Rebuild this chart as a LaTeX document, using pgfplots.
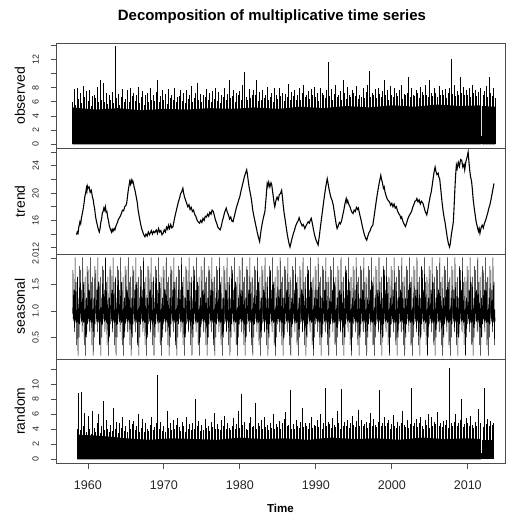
\documentclass[border=0pt]{standalone}
\usepackage{fontspec}
\setmainfont{Liberation Sans}
\usepackage{pgfplots}
\usepackage{pgfplotstable}
\pgfplotsset{compat=1.18}

% observed: five values per year at yr+0.0, +0.2, +0.4, +0.6, +0.8
\pgfplotstableread{
yr a b c d e
1958 6.0 7.8 5.6 7.9 6.4
1959 7.2 5.8 8.2 6.6 7.5
1960 6.1 7.7 5.4 6.8 7.0
1961 6.5 8.1 5.9 9.0 6.3
1962 8.6 6.0 7.3 5.7 6.9
1963 6.2 7.4 5.8 13.8 6.5
1964 7.1 5.5 6.7 7.8 6.0
1965 6.4 7.6 5.9 8.0 6.8
1966 7.3 6.1 7.0 8.1 5.8
1967 6.6 7.5 5.6 6.9 7.2
1968 5.9 7.9 6.3 7.0 6.1
1969 7.4 9.1 6.0 6.8 7.6
1970 6.2 7.1 5.7 7.8 6.5
1971 7.0 6.3 8.0 5.9 6.7
1972 6.8 7.6 6.1 7.2 5.8
1973 7.7 6.4 6.9 8.2 6.0
1974 6.5 7.3 8.6 6.2 7.1
1975 5.9 7.0 6.6 7.8 6.3
1976 7.2 6.0 7.5 6.4 8.0
1977 6.1 7.4 5.8 7.0 6.7
1978 7.9 6.2 7.1 9.0 6.5
1979 6.8 7.6 6.0 7.3 6.9
1980 7.5 6.3 8.4 10.2 6.6
1981 6.2 7.8 6.5 7.0 7.7
1982 6.9 9.0 6.1 7.4 6.3
1983 7.6 6.5 7.0 8.1 6.2
1984 6.7 7.3 6.0 7.9 7.0
1985 6.4 8.0 6.8 7.2 6.1
1986 7.1 6.6 8.5 6.3 7.4
1987 6.8 7.7 6.2 7.0 7.9
1988 6.3 7.2 8.3 6.6 7.0
1989 7.5 6.4 7.8 6.9 8.1
1990 6.6 7.3 6.1 8.0 7.2
1991 7.0 6.5 7.6 11.6 6.8
1992 7.8 6.2 7.1 8.4 6.7
1993 6.9 7.5 6.3 9.0 7.2
1994 6.4 8.1 7.0 6.6 7.7
1995 7.3 6.8 8.2 6.4 7.0
1996 6.7 7.9 6.5 7.4 8.3
1997 10.4 6.6 7.2 6.9 7.8
1998 6.5 8.0 7.1 6.7 7.5
1999 9.0 6.9 7.6 6.3 8.2
2000 7.0 6.6 7.9 7.2 6.8
2001 7.7 8.4 6.4 7.1 6.9
2002 7.3 9.5 6.7 8.0 7.0
2003 6.8 7.6 7.2 6.5 8.1
2004 7.4 6.9 8.3 7.0 6.6
2005 9.0 7.2 6.8 7.9 7.3
2006 6.7 8.2 7.0 7.6 6.9
2007 7.8 6.5 7.3 8.0 12.0
2008 7.1 8.4 6.8 7.5 7.0
2009 9.5 7.3 8.1 6.9 7.7
2010 7.0 7.9 6.6 8.3 7.2
2011 7.6 6.8 7.4 8.0 1.2
2012 6.9 7.5 8.2 6.7 9.5
2013 7.3 6.8 7.9 6.5 nan
}\obs

% random: same layout
\pgfplotstableread{
yr a b c d e
1958 nan nan nan 4.1 8.8
1959 3.9 9.0 4.4 6.2 3.6
1960 5.8 4.0 3.4 6.5 4.2
1961 3.7 4.8 6.0 3.5 4.5
1962 7.8 3.9 5.2 4.1 3.6
1963 4.6 3.8 6.8 4.0 5.0
1964 3.5 4.9 4.2 5.6 3.8
1965 4.4 3.6 5.3 4.0 4.7
1966 5.1 3.9 4.5 6.0 3.7
1967 4.2 5.4 3.6 4.8 4.0
1968 3.8 4.6 5.7 3.9 4.3
1969 4.9 11.3 4.1 5.0 3.8
1970 4.5 3.7 6.5 4.2 4.8
1971 3.9 5.2 4.0 4.6 5.5
1972 4.3 3.8 5.0 4.4 3.7
1973 5.6 4.1 4.7 3.9 4.9
1974 4.0 8.0 4.4 5.1 3.8
1975 4.6 3.9 5.4 4.2 4.5
1976 3.8 5.0 4.3 6.2 4.0
1977 4.7 4.1 3.9 5.3 4.4
1978 5.8 4.0 4.8 4.2 3.9
1979 4.5 5.5 4.1 4.7 6.4
1980 4.2 8.7 4.6 5.0 4.0
1981 3.9 4.8 5.6 4.3 4.5
1982 7.5 4.1 4.9 4.4 5.2
1983 4.0 5.7 4.3 4.6 3.9
1984 4.8 4.2 6.0 4.1 4.7
1985 4.3 5.1 4.0 4.9 5.4
1986 6.3 4.4 4.6 9.3 4.1
1987 4.7 4.0 5.3 4.5 4.2
1988 5.0 6.9 4.3 4.8 4.4
1989 4.1 4.9 5.6 4.2 4.6
1990 4.5 5.2 4.3 6.1 4.0
1991 4.8 9.5 4.4 5.0 4.7
1992 4.2 5.5 4.6 4.3 6.5
1993 4.9 4.1 9.4 4.5 5.0
1994 4.4 5.3 4.2 4.8 5.8
1995 4.6 4.3 5.1 6.6 4.4
1996 5.2 4.5 4.7 5.0 4.2
1997 4.8 6.2 4.4 5.4 4.6
1998 4.3 5.0 9.3 4.5 4.9
1999 5.6 4.4 4.8 5.2 4.1
2000 4.7 5.9 4.5 4.2 5.0
2001 4.4 4.9 6.4 4.6 4.3
2002 5.3 4.2 4.7 9.5 4.5
2003 4.9 5.4 4.3 4.8 5.7
2004 4.5 4.1 5.2 4.6 6.0
2005 4.2 5.6 4.4 5.0 4.7
2006 6.3 4.5 4.9 4.3 5.1
2007 4.6 5.3 4.2 12.2 4.8
2008 4.4 5.0 6.1 4.5 4.9
2009 5.2 8.0 4.3 4.7 5.5
2010 4.8 4.4 5.8 4.6 4.2
2011 5.0 4.5 6.7 4.9 0.8
2012 4.3 9.5 4.7 5.4 4.5
2013 5.1 4.6 4.9 nan nan
}\rnd

% one cycle of the seasonal factor (fraction of year, value)
\pgfplotstableread{
t s
0.000 0.95
0.035 1.78
0.070 0.85
0.105 1.05
0.140 0.80
0.175 1.40
0.210 0.90
0.245 0.60
0.280 1.00
0.315 2.02
0.350 0.82
0.385 1.08
0.420 0.78
0.455 1.55
0.490 0.95
0.525 0.35
0.560 1.02
0.595 0.80
0.630 1.65
0.665 0.90
0.700 0.15
0.735 1.05
0.770 0.85
0.805 1.25
0.840 0.50
0.875 1.00
0.910 1.85
0.945 0.75
0.980 1.10
}\seas

\pgfplotsset{
  rpanel/.style={
    scale only axis, width=449bp, anchor=north west,
    xmin=1955.8, xmax=2014.9,
    axis line style={black!70, line width=0.8bp},
    every tick/.style={black!70, line width=0.8bp},
    tick align=outside, major tick length=5bp,
    ytick pos=left, xtick pos=bottom, xtick=\empty,
    yticklabel style={rotate=90, anchor=south, inner sep=0pt,
      font=\fontsize{9}{10}\selectfont, text=black!85},
    yticklabel shift=12bp,
    ylabel style={at={(axis description cs:-0.0802,0.5)}, anchor=center,
      inner sep=0pt, font=\fontsize{14}{16}\selectfont},
    /pgf/number format/assume math mode=true,
  },
  comb/.style={ycomb, black, line width=0.8bp, mark=none},
}

\begin{document}
\begin{tikzpicture}
\path[use as bounding box] (0,0) rectangle (507bp,-517bp);

% observed
\begin{axis}[rpanel, at={(56bp,-43.3bp)}, height=105.2bp,
  ymin=-0.59, ymax=14.24,
  ytick={0,2,...,14}, yticklabels={0,2,4,6,8,,12,},
  ylabel={observed},
  title={Decomposition of multiplicative time series},
  title style={at={(axis description cs:0.481,1.193)}, anchor=center,
    yshift=0pt, inner sep=0pt, font=\bfseries\fontsize{15}{18}\selectfont}]
\addplot[fill=black, draw=none] coordinates {(1958,0)(1958,5.2)(1961,4.9)(1964,5.1)(1967,4.8)(1970,5.0)(1973,4.9)(1976,5.1)(1979,5.0)(1982,5.2)(1985,5.0)(1988,5.3)(1991,5.1)(1994,5.4)(1997,5.2)(2000,5.5)(2003,5.3)(2006,5.6)(2009,5.4)(2011.74,5.5)(2011.74,0)};
\addplot[fill=black, draw=none] coordinates {(2011.86,0)(2011.86,5.4)(2013.6,5.3)(2013.6,0)};
\addplot[comb] table[x expr=\thisrow{yr}+0.0, y=a] {\obs};
\addplot[comb] table[x expr=\thisrow{yr}+0.2, y=b] {\obs};
\addplot[comb] table[x expr=\thisrow{yr}+0.4, y=c] {\obs};
\addplot[comb] table[x expr=\thisrow{yr}+0.6, y=d] {\obs};
\addplot[comb] table[x expr=\thisrow{yr}+0.8, y=e] {\obs};
\end{axis}

% trend
\begin{axis}[rpanel, at={(56bp,-148.5bp)}, height=105.5bp,
  ymin=11.08, ymax=26.52,
  ytick={12,14,...,26}, yticklabels={12,,16,,20,,24,},
  ylabel={trend}]
\addplot[black, line width=1.1bp, mark=none] coordinates {
(1958.50,13.9)(1958.60,14.3)(1958.70,14.1)(1958.80,15.0)(1958.95,15.8)(1959.05,15.5)(1959.15,16.4)(1959.25,16.9)(1959.40,17.8)(1959.50,18.6)(1959.60,19.5)(1959.70,20.0)(1959.80,20.7)(1959.87,20.3)(1959.93,21.0)(1960.00,20.7)(1960.15,20.9)(1960.30,20.1)(1960.45,20.4)(1960.60,19.4)(1960.70,19.0)(1960.80,18.2)(1960.90,17.6)(1961.00,16.6)(1961.10,16.0)(1961.20,15.5)(1961.30,15.0)(1961.40,14.6)(1961.50,14.3)(1961.60,14.8)(1961.70,15.7)(1961.80,16.2)(1961.90,17.1)(1962.00,17.3)(1962.10,17.8)(1962.20,17.5)(1962.30,18.0)(1962.40,17.2)(1962.50,17.3)(1962.60,16.5)(1962.70,16.0)(1962.80,15.3)(1962.90,14.9)(1963.00,14.6)(1963.10,14.3)(1963.20,14.7)(1963.30,14.4)(1963.45,14.8)(1963.55,14.6)(1963.70,15.2)(1963.85,15.6)(1964.00,16.1)(1964.15,16.4)(1964.30,16.7)(1964.40,17.0)(1964.55,17.5)(1964.70,17.4)(1964.85,18.0)(1965.00,18.2)(1965.10,18.5)(1965.20,19.4)(1965.30,20.3)(1965.40,21.0)(1965.50,21.7)(1965.60,21.3)(1965.70,21.9)(1965.80,21.5)(1965.90,21.8)(1966.00,21.4)(1966.10,20.8)(1966.20,20.4)(1966.30,19.8)(1966.40,19.2)(1966.50,18.6)(1966.60,17.6)(1966.70,16.9)(1966.80,16.3)(1966.95,15.4)(1967.10,14.7)(1967.25,14.2)(1967.40,13.8)(1967.50,13.6)(1967.65,14.0)(1967.80,13.7)(1967.95,14.3)(1968.10,13.9)(1968.20,14.1)(1968.35,14.5)(1968.50,14.0)(1968.65,14.4)(1968.80,14.2)(1969.00,14.6)(1969.15,14.1)(1969.30,14.8)(1969.45,14.3)(1969.60,14.5)(1969.75,13.9)(1969.90,14.1)(1970.05,14.6)(1970.20,14.3)(1970.35,15.0)(1970.50,14.7)(1970.60,15.3)(1970.75,14.8)(1970.90,15.4)(1971.05,14.9)(1971.20,15.1)(1971.35,16.0)(1971.50,16.8)(1971.65,17.5)(1971.80,18.2)(1971.90,18.7)(1972.05,19.2)(1972.20,19.9)(1972.35,20.2)(1972.50,20.7)(1972.60,20.0)(1972.70,19.5)(1972.85,19.0)(1973.00,18.5)(1973.15,18.0)(1973.30,18.3)(1973.45,17.6)(1973.60,17.9)(1973.75,17.3)(1973.90,17.5)(1974.05,16.9)(1974.20,16.6)(1974.35,16.1)(1974.50,15.8)(1974.70,15.6)(1974.85,16.0)(1975.00,15.7)(1975.15,16.3)(1975.30,16.0)(1975.45,16.6)(1975.60,16.5)(1975.75,16.9)(1975.90,16.6)(1976.05,17.2)(1976.20,16.9)(1976.35,17.5)(1976.50,17.3)(1976.65,16.7)(1976.80,16.0)(1976.95,15.6)(1977.10,15.0)(1977.25,14.8)(1977.40,14.6)(1977.55,15.1)(1977.70,15.9)(1977.85,16.5)(1978.00,17.2)(1978.20,17.8)(1978.35,17.2)(1978.50,16.8)(1978.65,16.2)(1978.80,16.5)(1978.95,15.9)(1979.10,15.8)(1979.25,16.5)(1979.40,17.2)(1979.55,17.9)(1979.70,18.4)(1979.85,19.0)(1980.00,19.5)(1980.15,20.3)(1980.30,21.0)(1980.45,21.7)(1980.60,22.4)(1980.75,22.9)(1980.90,23.4)(1981.00,22.7)(1981.10,21.8)(1981.20,21.0)(1981.35,20.1)(1981.50,19.2)(1981.60,18.4)(1981.70,17.5)(1981.85,16.6)(1982.00,15.8)(1982.15,15.0)(1982.30,14.2)(1982.45,13.5)(1982.60,12.9)(1982.70,13.8)(1982.80,14.6)(1982.95,15.6)(1983.10,16.4)(1983.30,17.3)(1983.40,18.6)(1983.50,20.0)(1983.60,21.4)(1983.70,21.0)(1983.80,21.6)(1983.95,20.9)(1984.10,21.5)(1984.20,21.2)(1984.30,20.3)(1984.40,19.5)(1984.50,18.6)(1984.60,18.0)(1984.75,18.9)(1984.90,19.4)(1985.05,19.0)(1985.20,19.8)(1985.35,19.9)(1985.50,20.4)(1985.60,19.5)(1985.70,18.3)(1985.80,17.3)(1985.95,16.2)(1986.10,15.0)(1986.25,13.9)(1986.40,13.0)(1986.50,12.5)(1986.60,12.1)(1986.75,12.8)(1986.90,13.5)(1987.05,14.1)(1987.20,14.6)(1987.35,15.2)(1987.50,15.6)(1987.65,15.9)(1987.80,16.4)(1987.90,16.0)(1988.05,15.6)(1988.20,15.2)(1988.35,15.4)(1988.55,14.8)(1988.70,15.2)(1988.85,15.5)(1989.00,15.8)(1989.15,15.6)(1989.30,16.1)(1989.40,16.3)(1989.55,15.5)(1989.70,14.6)(1989.85,13.8)(1990.00,13.2)(1990.15,12.8)(1990.30,12.4)(1990.45,13.6)(1990.60,15.0)(1990.75,16.3)(1990.90,17.6)(1991.05,18.9)(1991.20,20.1)(1991.35,21.2)(1991.50,22.1)(1991.60,21.5)(1991.70,20.8)(1991.85,20.0)(1992.00,19.3)(1992.15,18.9)(1992.30,18.2)(1992.45,17.1)(1992.60,16.0)(1992.70,15.3)(1992.80,14.8)(1992.95,15.2)(1993.10,15.7)(1993.25,15.5)(1993.40,16.0)(1993.55,16.8)(1993.70,17.6)(1993.85,18.5)(1994.00,19.2)(1994.10,18.6)(1994.20,18.9)(1994.35,18.3)(1994.50,18.0)(1994.60,17.6)(1994.75,17.2)(1994.90,17.0)(1995.05,17.5)(1995.20,17.3)(1995.35,17.9)(1995.50,17.6)(1995.60,17.8)(1995.75,17.0)(1995.90,16.3)(1996.00,15.8)(1996.15,15.0)(1996.30,14.3)(1996.45,13.7)(1996.60,13.3)(1996.70,13.1)(1996.85,13.7)(1997.00,14.2)(1997.15,14.5)(1997.30,15.0)(1997.50,15.3)(1997.65,16.4)(1997.80,17.6)(1997.95,18.8)(1998.10,19.9)(1998.25,20.9)(1998.40,21.8)(1998.55,22.6)(1998.65,22.0)(1998.75,21.6)(1998.90,20.7)(1999.00,20.9)(1999.10,20.2)(1999.25,19.6)(1999.40,19.1)(1999.55,18.9)(1999.70,18.7)(1999.85,18.2)(2000.00,18.5)(2000.15,18.0)(2000.30,18.4)(2000.45,17.8)(2000.60,18.0)(2000.75,17.4)(2000.90,17.0)(2001.05,16.8)(2001.20,16.3)(2001.30,16.5)(2001.45,15.9)(2001.60,15.5)(2001.80,15.1)(2001.95,15.6)(2002.10,16.2)(2002.25,16.6)(2002.40,16.9)(2002.60,17.3)(2002.75,17.9)(2002.90,18.3)(2003.05,18.8)(2003.20,18.9)(2003.30,19.2)(2003.45,18.7)(2003.60,19.0)(2003.75,18.4)(2003.90,18.8)(2004.10,18.5)(2004.25,17.9)(2004.40,17.3)(2004.60,16.8)(2004.75,17.6)(2004.90,18.6)(2005.05,19.5)(2005.20,20.2)(2005.35,21.4)(2005.50,22.6)(2005.60,23.3)(2005.70,23.8)(2005.80,23.2)(2005.95,22.7)(2006.10,22.9)(2006.20,22.3)(2006.30,22.1)(2006.45,20.5)(2006.60,18.8)(2006.75,17.4)(2006.90,16.3)(2007.00,15.8)(2007.15,14.6)(2007.30,13.5)(2007.45,12.6)(2007.60,12.1)(2007.70,12.6)(2007.85,14.0)(2008.00,15.0)(2008.10,15.8)(2008.20,18.0)(2008.30,20.5)(2008.40,22.6)(2008.50,24.1)(2008.60,23.6)(2008.75,24.5)(2008.90,23.9)(2009.05,24.9)(2009.20,24.8)(2009.35,23.8)(2009.50,24.2)(2009.60,23.4)(2009.75,24.6)(2009.90,25.2)(2010.05,26.0)(2010.15,24.6)(2010.25,23.4)(2010.35,22.5)(2010.50,21.7)(2010.60,20.6)(2010.70,19.2)(2010.85,17.8)(2011.00,16.6)(2011.10,15.8)(2011.25,15.1)(2011.40,14.4)(2011.50,14.8)(2011.60,14.1)(2011.75,14.9)(2011.90,15.3)(2012.05,14.9)(2012.20,15.6)(2012.35,16.0)(2012.50,16.6)(2012.65,17.2)(2012.80,17.9)(2012.90,18.2)(2013.05,19.0)(2013.20,19.9)(2013.35,20.8)(2013.45,21.4)
};
\end{axis}

% seasonal
\begin{axis}[rpanel, at={(56bp,-254bp)}, height=105bp,
  ymin=0.088, ymax=2.082,
  ytick={0.5,1.0,1.5,2.0}, yticklabels={0.5,1.0,1.5,2.0},
  ylabel={seasonal},
  restrict x to domain=1958:2013.6]
\pgfplotsinvokeforeach{1958,...,2013}{
  \addplot[black, line width=0.5bp, mark=none] table[x expr=\thisrow{t}+#1, y=s] {\seas};
}
\end{axis}

% random
\begin{axis}[rpanel, at={(56bp,-359bp)}, height=104.5bp,
  ymin=-0.56, ymax=13.37,
  ytick={0,2,...,12}, yticklabels={0,2,4,6,8,10,},
  ylabel={random},
  xtick={1960,1970,...,2010},
  xticklabels={1960,1970,1980,1990,2000,2010},
  xticklabel style={anchor=north, inner sep=0pt,
    font=\fontsize{12.6}{14}\selectfont, text=black!85},
  xticklabel shift=12.5bp,
  xlabel={Time},
  xlabel style={at={(axis description cs:0.5,-0.426)}, anchor=center,
    inner sep=0pt, font=\bfseries\fontsize{11.6}{14}\selectfont}]
\addplot[fill=black, draw=none] coordinates {(1958.6,0)(1958.6,3.3)(1962,3.1)(1965,2.8)(1968,2.6)(1971,2.8)(1974,2.7)(1977,2.6)(1980,2.9)(1983,2.7)(1986,2.8)(1989,2.6)(1992,2.9)(1995,2.7)(1998,2.8)(2001,2.6)(2004,2.9)(2007,2.7)(2010,2.8)(2011.74,2.7)(2011.74,0)};
\addplot[fill=black, draw=none] coordinates {(2011.86,0)(2011.86,2.6)(2013.4,2.6)(2013.4,0)};
\addplot[comb] table[x expr=\thisrow{yr}+0.0, y=a] {\rnd};
\addplot[comb] table[x expr=\thisrow{yr}+0.2, y=b] {\rnd};
\addplot[comb] table[x expr=\thisrow{yr}+0.4, y=c] {\rnd};
\addplot[comb] table[x expr=\thisrow{yr}+0.6, y=d] {\rnd};
\addplot[comb] table[x expr=\thisrow{yr}+0.8, y=e] {\rnd};
\end{axis}
\end{tikzpicture}
\end{document}
